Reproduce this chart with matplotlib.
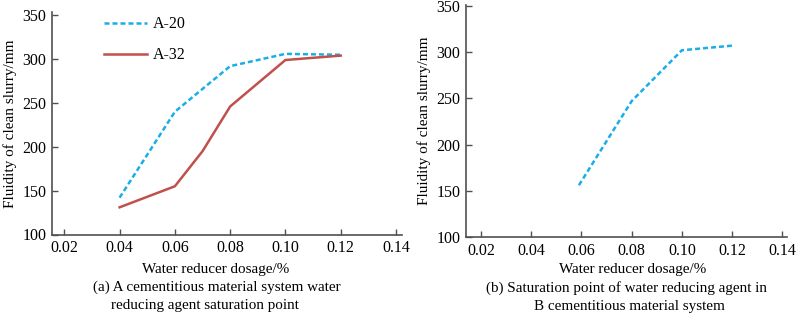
import matplotlib
matplotlib.use("Agg")
import matplotlib.pyplot as plt

plt.rcParams['font.family'] = ['Liberation Serif', 'DejaVu Serif']

# Data
a20_x = [0.04, 0.06, 0.08, 0.10, 0.12]
a20_y = [142, 240, 292, 306, 305]
a32_x = [0.04, 0.06, 0.07, 0.08, 0.10, 0.12]
a32_y = [131, 155, 195, 246, 299, 304]
b_x = [0.059, 0.08, 0.10, 0.12]
b_y = [156, 247, 302, 307]
xticks = [0.02, 0.04, 0.06, 0.08, 0.10, 0.12, 0.14]
xticklabels = ["0.02", "0.04", "0.06", "0.08", "0.10", "0.12", "0.14"]
yticks = [100, 150, 200, 250, 300, 350]

W, H = 799, 313
fig = plt.figure(figsize=(W / 100, H / 100), dpi=100)

def px_axes(x0, y0, x1, y1):
    return fig.add_axes([x0 / W, 1 - y1 / H, (x1 - x0) / W, (y1 - y0) / H])

BLUE = '#1aaee8'
RED = '#c0504d'
AXC = '#505050'
FS = 11.5
CFS = 10.9

def style(ax):
    for s in ['top', 'right']:
        ax.spines[s].set_visible(False)
    for s in ['left', 'bottom']:
        ax.spines[s].set_color(AXC)
        ax.spines[s].set_linewidth(1.2)
    ax.set_xticks(xticks)
    ax.set_xticklabels(xticklabels)
    ax.set_yticks(yticks)
    ax.tick_params(direction='in', length=4, width=1, color=AXC, labelsize=FS, pad=4)

# Left panel
ax1 = px_axes(51.7, 12.3, 401.7, 234.5)
ax1.plot(a20_x, a20_y, color=BLUE, lw=1.8, dashes=(2.0, 1.2), label='A-20')
ax1.plot(a32_x, a32_y, color=RED, lw=1.8, label='A-32')
ax1.set_xlim(0.01544, 0.14206)
ax1.set_ylim(100, 353.4)
style(ax1)
ax1.set_ylabel('Fluidity of clean slurry/mm', fontsize=11)
ax1.legend(loc='upper left', bbox_to_anchor=(0.107, 1.047), frameon=False, fontsize=FS,
           handlelength=2.7, labelspacing=0.95, handletextpad=0.4)

# Right panel
ax2 = px_axes(466, 4.5, 787.3, 237)
ax2.plot(b_x, b_y, color=BLUE, lw=1.8, dashes=(2.0, 1.2))
ax2.set_xlim(0.01403, 0.14199)
ax2.set_ylim(100, 351.5)
style(ax2)
ax2.set_ylabel('Fluidity of clean slurry/mm', fontsize=11)

# Labels and captions
def ftext(x, y, s):
    fig.text(x / W, 1 - y / H, s, ha='center', va='center', fontsize=CFS)

ftext(216, 270, 'Water reducer dosage/%')
ftext(216.5, 287.5, '(a) A cementitious material system water')
ftext(205, 305, 'reducing agent saturation point')
ftext(632.5, 270, 'Water reducer dosage/%')
ftext(626.7, 288.3, '(b) Saturation point of water reducing agent in')
ftext(629, 306.5, 'B cementitious material system')

fig.savefig('out.png', dpi=100)
